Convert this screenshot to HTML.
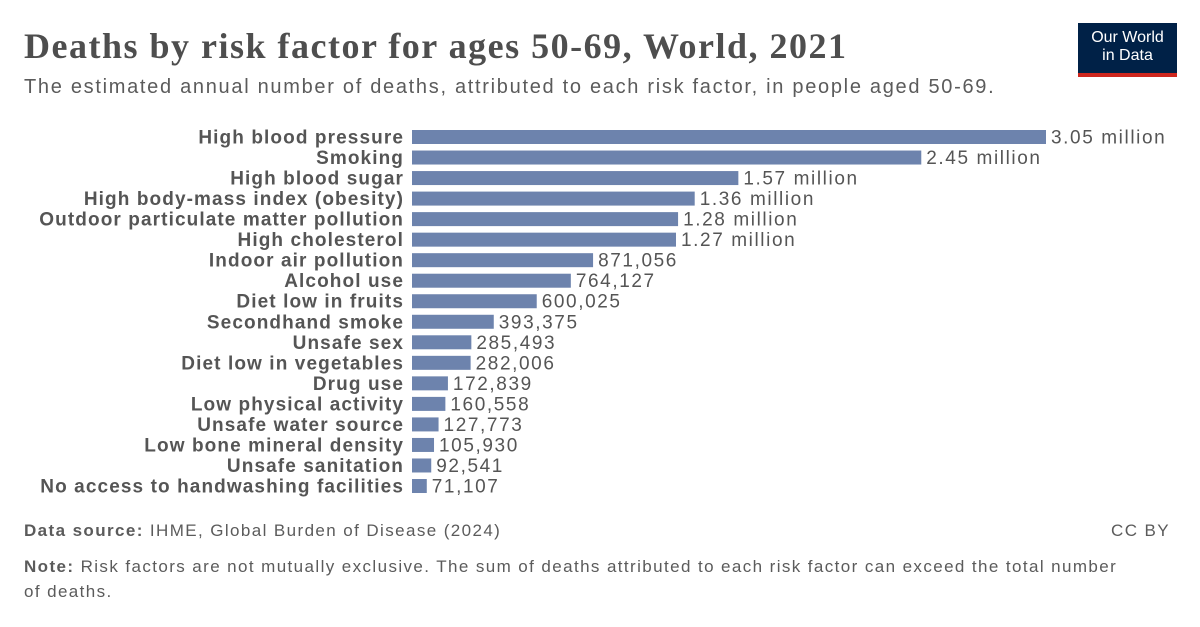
<!DOCTYPE html>
<html><head><meta charset="utf-8"><style>
body{margin:0;background:#fff;width:1200px;height:627px;overflow:hidden;font-family:"Liberation Sans",sans-serif}
.t{position:absolute;white-space:nowrap}
</style></head><body>
<div class="t" style="left:24px;top:25px;font-family:'Liberation Serif',serif;font-weight:bold;font-size:36px;letter-spacing:1.5px;color:#4e4e4e">Deaths by risk factor for ages 50-69, World, 2021</div>
<div class="t" style="left:24px;top:76px;font-size:20px;letter-spacing:1.7px;color:#5b5b5b">The estimated annual number of deaths, attributed to each risk factor, in people aged 50-69.</div>
<div style="position:absolute;left:1078px;top:23px;width:99px;height:54px;background:#002147;border-bottom:4px solid #ce261e;box-sizing:border-box;color:#fff;font-size:16px;line-height:18px;text-align:center;padding-top:6px">Our World<br>in Data</div>
<svg id="c" width="1200" height="627" style="position:absolute;left:0;top:0"></svg>
<div class="t" style="left:24px;top:521px;font-size:17px;letter-spacing:1.4px;color:#5b5b5b"><b>Data source:</b> IHME, Global Burden of Disease (2024)</div>
<div class="t" style="right:30px;top:521px;font-size:17px;letter-spacing:1.4px;color:#5b5b5b">CC BY</div>
<div class="t" style="left:24px;top:554px;font-size:17px;letter-spacing:1.4px;color:#5b5b5b;white-space:normal;width:1100px;line-height:25px"><b>Note:</b> Risk factors are not mutually exclusive. The sum of deaths attributed to each risk factor can exceed the total number of deaths.</div>
<script>
const categories=["High blood pressure","Smoking","High blood sugar","High body-mass index (obesity)","Outdoor particulate matter pollution","High cholesterol","Indoor air pollution","Alcohol use","Diet low in fruits","Secondhand smoke","Unsafe sex","Diet low in vegetables","Drug use","Low physical activity","Unsafe water source","Low bone mineral density","Unsafe sanitation","No access to handwashing facilities"];
const values=[3050000,2450000,1570000,1360000,1280000,1270000,871056,764127,600025,393375,285493,282006,172839,160558,127773,105930,92541,71107];
const valueLabels=["3.05 million","2.45 million","1.57 million","1.36 million","1.28 million","1.27 million","871,056","764,127","600,025","393,375","285,493","282,006","172,839","160,558","127,773","105,930","92,541","71,107"];
const svg=document.getElementById('c'),NS='http://www.w3.org/2000/svg';
const x0=412,maxV=3050000,maxW=634;
const xs=v=>v/maxV*maxW;
const ys=i=>137+i*20.53;
categories.forEach((c,i)=>{
 const y=ys(i);
 const l=document.createElementNS(NS,'text');
 
 
 l.setAttribute('x',404);l.setAttribute('y',y+6.5);l.setAttribute('text-anchor','end');
 l.setAttribute('font-size','19');l.setAttribute('font-weight','bold');l.setAttribute('fill','#555');
 l.setAttribute('letter-spacing','1.1');
 l.textContent=c;svg.appendChild(l);
 const r=document.createElementNS(NS,'rect');
 
 
 const w=xs(values[i]);
 r.setAttribute('x',x0);r.setAttribute('y',y-7);r.setAttribute('width',w);r.setAttribute('height',14);r.setAttribute('fill','#6d83ad');
 svg.appendChild(r);
 const v=document.createElementNS(NS,'text');
 
 
 v.setAttribute('x',x0+w+5);v.setAttribute('y',y+6.5);v.setAttribute('font-size','19');v.setAttribute('fill','#555');
 v.setAttribute('letter-spacing','1.6');
 v.textContent=valueLabels[i];svg.appendChild(v);
});
</script>
</body></html>
